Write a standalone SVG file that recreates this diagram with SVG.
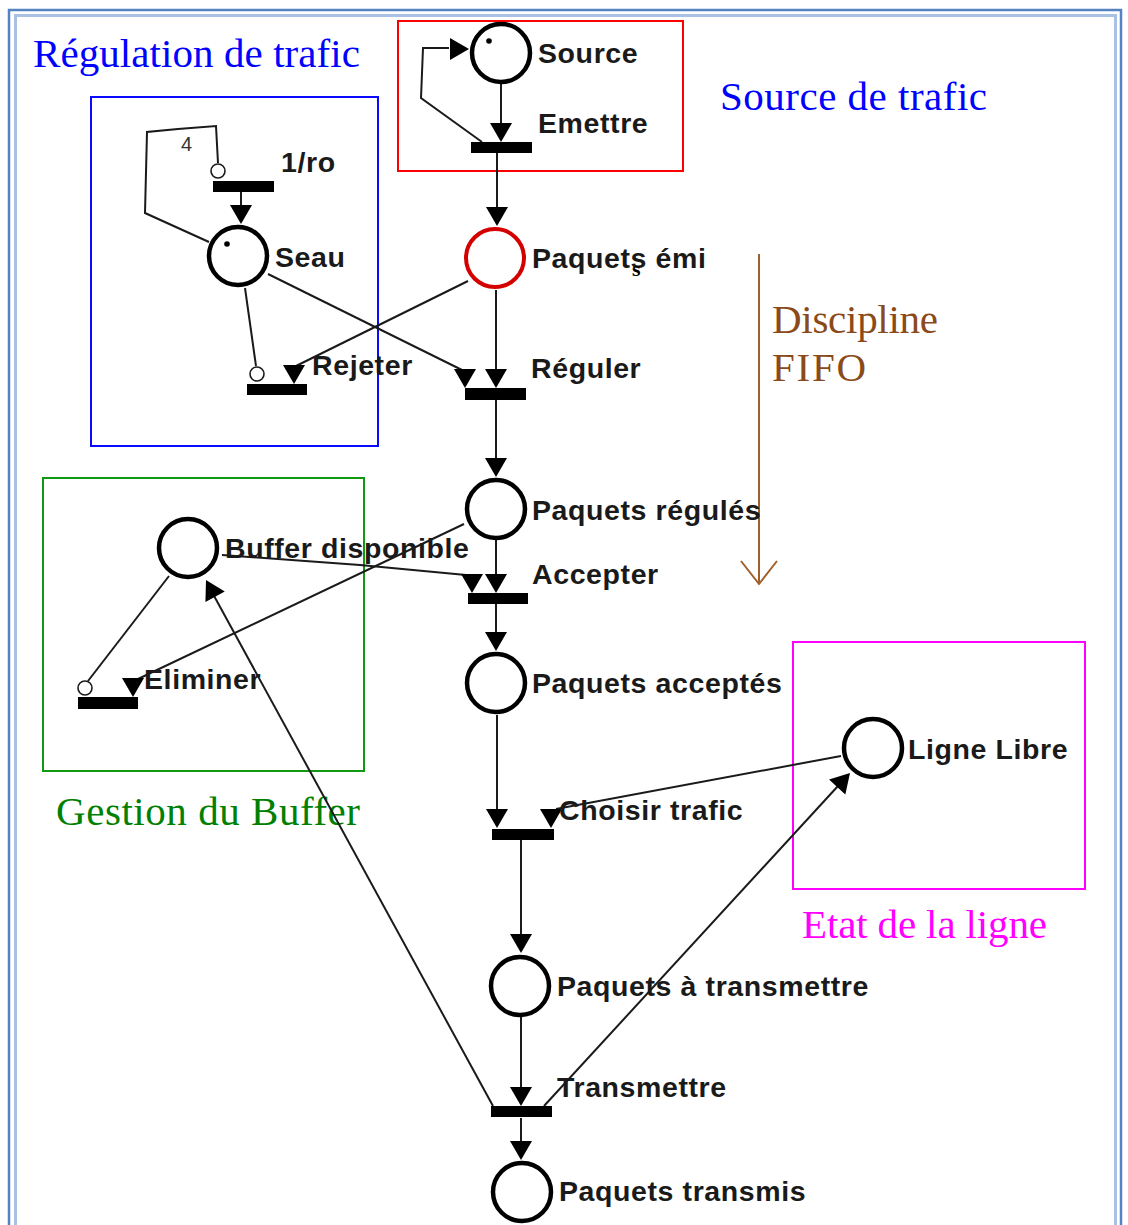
<svg xmlns="http://www.w3.org/2000/svg" xmlns:xlink="http://www.w3.org/1999/xlink" width="1128" height="1225" viewBox="0 0 1128 1225">
  <style>
    .place { fill: #ffffff; stroke: #000000; stroke-width: 4.5; }
    .place-red { fill: #ffffff; stroke: #d40000; stroke-width: 4; }
    .bar { fill: #000000; }
    .arc { fill: none; stroke: #1a1a1a; stroke-width: 2; }
    .inhib { fill: #ffffff; stroke: #1a1a1a; stroke-width: 1.6; }
    .token { fill: #000000; }
    .lbl { font-family: "Liberation Sans", Arial, sans-serif; font-weight: bold; font-size: 28.5px; letter-spacing: 0.6px; fill: #1a1a1a; }
    .title { font-family: "Liberation Serif", "Times New Roman", serif; font-size: 41px; }
    .box { fill: none; stroke-width: 2; }
  </style>
  <defs>
    <!-- filled arrowhead, tip at origin, pointing along +y -->
    <path id="ah" d="M0,0 L-11,-19 L11,-19 Z" fill="#000000"/>
  </defs>

  <rect width="1128" height="1225" fill="#ffffff"/>

  <!-- window frame -->
  <rect x="9" y="10" width="1112" height="1250" fill="none" stroke="#5582c0" stroke-width="2.5"/>
  <rect x="15.5" y="15.5" width="1100" height="1240" fill="none" stroke="#a9c1e2" stroke-width="3"/>

  <!-- grouping frames and their captions -->
  <g id="zone-regulation">
    <rect class="box" x="91" y="97" width="287" height="349" stroke="#0a0aff"/>
    <text class="title" x="33" y="67" fill="#0000ff" textLength="327" lengthAdjust="spacing">Régulation de trafic</text>
  </g>
  <g id="zone-source">
    <rect class="box" x="398" y="21" width="285" height="150" stroke="#ff0000"/>
    <text class="title" x="720" y="110" fill="#0000ff" textLength="267" lengthAdjust="spacing">Source de trafic</text>
  </g>
  <g id="zone-buffer">
    <rect class="box" x="43" y="478" width="321" height="293" stroke="#119911"/>
    <text class="title" x="56" y="825" fill="#008000" textLength="304" lengthAdjust="spacing">Gestion du Buffer</text>
  </g>
  <g id="zone-ligne">
    <rect class="box" x="793" y="642" width="292" height="247" stroke="#ff00ff"/>
    <text class="title" x="802" y="938" fill="#ff00ff" textLength="245" lengthAdjust="spacing">Etat de la ligne</text>
  </g>
  <g id="discipline">
    <text class="title" x="772" y="333" fill="#8b4a1a" textLength="166" lengthAdjust="spacing">Discipline</text>
    <text class="title" x="772" y="381" fill="#8b4a1a" textLength="94" lengthAdjust="spacing">FIFO</text>
    <line x1="759" y1="254" x2="759" y2="584" stroke="#a0602a" stroke-width="2"/>
    <polyline points="741,561 759,584 777,561" fill="none" stroke="#a0602a" stroke-width="2"/>
  </g>

  <!-- arcs -->
  <g id="connectors">
    <!-- Source / Emettre -->
    <line class="arc" x1="501" y1="84" x2="501" y2="124"/>
    <use xlink:href="#ah" x="501" y="142"/>
    <polyline class="arc" points="482,142 421,98 423,48 449,48"/>
    <use xlink:href="#ah" transform="translate(469,49) rotate(-90)"/>
    <line class="arc" x1="497" y1="153" x2="497" y2="208"/>
    <use xlink:href="#ah" x="497" y="226"/>

    <!-- Seau loop with weight 4 (inhibitor on 1/ro) -->
    <polyline class="arc" points="209,242 145,213 147,132 178,129 216,126 218,163"/>
    <circle class="inhib" cx="218" cy="171" r="7"/>
    <line class="arc" x1="241" y1="192" x2="241" y2="205"/>
    <use xlink:href="#ah" x="241" y="224"/>

    <!-- Seau / Paquets emis to Rejeter and Reguler -->
    <line class="arc" x1="245" y1="288" x2="256" y2="366"/>
    <circle class="inhib" cx="257" cy="374" r="7"/>
    <line class="arc" x1="468" y1="281" x2="296" y2="366"/>
    <use xlink:href="#ah" x="294" y="384"/>
    <line class="arc" x1="268" y1="274" x2="462" y2="370"/>
    <use xlink:href="#ah" x="465" y="388"/>
    <line class="arc" x1="496" y1="290" x2="496" y2="370"/>
    <use xlink:href="#ah" x="496" y="388"/>

    <!-- Reguler to Paquets regules -->
    <line class="arc" x1="496" y1="400" x2="496" y2="459"/>
    <use xlink:href="#ah" x="496" y="477"/>

    <!-- Accepter -->
    <line class="arc" x1="496" y1="540" x2="496" y2="575"/>
    <use xlink:href="#ah" x="496" y="593"/>
    <polyline class="arc" points="222,555 360,565 466,575"/>
    <use xlink:href="#ah" x="472" y="593"/>
    <line class="arc" x1="496" y1="604" x2="496" y2="633"/>
    <use xlink:href="#ah" x="496" y="651"/>

    <!-- Eliminer -->
    <line class="arc" x1="464" y1="524" x2="138" y2="679"/>
    <use xlink:href="#ah" x="133" y="697"/>
    <line class="arc" x1="169" y1="576" x2="88" y2="681"/>
    <circle class="inhib" cx="85" cy="688" r="7"/>

    <!-- Choisir trafic -->
    <line class="arc" x1="497" y1="715" x2="497" y2="810"/>
    <use xlink:href="#ah" x="497" y="828"/>
    <line class="arc" x1="841" y1="756" x2="556" y2="809"/>
    <use xlink:href="#ah" x="551" y="828"/>
    <line class="arc" x1="521" y1="840" x2="521" y2="935"/>
    <use xlink:href="#ah" x="521" y="953"/>

    <!-- Transmettre -->
    <line class="arc" x1="521" y1="1017" x2="521" y2="1088"/>
    <use xlink:href="#ah" x="521" y="1106"/>
    <line class="arc" x1="521" y1="1118" x2="521" y2="1142"/>
    <use xlink:href="#ah" x="521" y="1160"/>
    <line class="arc" x1="544" y1="1106" x2="838" y2="786"/>
    <use xlink:href="#ah" transform="translate(850,773) rotate(-137.6)"/>
    <line class="arc" x1="493" y1="1106" x2="213" y2="594"/>
    <use xlink:href="#ah" transform="translate(206,580) rotate(151.4)"/>
  </g>

  <!-- places -->
  <g id="p-source">
    <circle class="place" cx="501" cy="53" r="29"/>
    <circle class="token" cx="489" cy="41" r="2.8"/>
    <text class="lbl" x="538" y="63">Source</text>
  </g>
  <g id="p-paquets-emis">
    <circle class="place-red" cx="495" cy="258" r="29"/>
    <text class="lbl" x="532" y="268">Paquets émi</text>
    <text x="632" y="276" font-family="Liberation Serif, serif" font-weight="bold" font-size="22" fill="#000000">s</text>
  </g>
  <g id="p-seau">
    <circle class="place" cx="238" cy="256" r="29"/>
    <circle class="token" cx="227" cy="244" r="2.8"/>
    <text class="lbl" x="275" y="267">Seau</text>
  </g>
  <g id="p-paquets-regules">
    <circle class="place" cx="496" cy="509" r="29"/>
    <text class="lbl" x="532" y="520">Paquets régulés</text>
  </g>
  <g id="p-buffer">
    <circle class="place" cx="188" cy="548" r="29"/>
    <text class="lbl" x="225" y="558">Buffer disponible</text>
  </g>
  <g id="p-paquets-acceptes">
    <circle class="place" cx="496" cy="683" r="29"/>
    <text class="lbl" x="532" y="693">Paquets acceptés</text>
  </g>
  <g id="p-ligne-libre">
    <circle class="place" cx="873" cy="748" r="29"/>
    <text class="lbl" x="908" y="759">Ligne Libre</text>
  </g>
  <g id="p-paquets-a-transmettre">
    <circle class="place" cx="520" cy="986" r="29"/>
    <text class="lbl" x="557" y="996">Paquets à transmettre</text>
  </g>
  <g id="p-paquets-transmis">
    <circle class="place" cx="522" cy="1192" r="29"/>
    <text class="lbl" x="559" y="1201">Paquets transmis</text>
  </g>

  <!-- transitions -->
  <g id="t-emettre">
    <rect class="bar" x="471" y="142" width="61" height="11"/>
    <text class="lbl" x="538" y="133">Emettre</text>
  </g>
  <g id="t-1ro">
    <rect class="bar" x="213" y="181" width="61" height="11"/>
    <text class="lbl" x="281" y="172">1/ro</text>
    <text x="181" y="151" font-family="Liberation Sans, Arial, sans-serif" font-size="20" fill="#333333">4</text>
  </g>
  <g id="t-rejeter">
    <rect class="bar" x="247" y="384" width="60" height="11"/>
    <text class="lbl" x="312" y="375">Rejeter</text>
  </g>
  <g id="t-reguler">
    <rect class="bar" x="465" y="388" width="61" height="12"/>
    <text class="lbl" x="531" y="378">Réguler</text>
  </g>
  <g id="t-accepter">
    <rect class="bar" x="468" y="593" width="60" height="11"/>
    <text class="lbl" x="532" y="584">Accepter</text>
  </g>
  <g id="t-eliminer">
    <rect class="bar" x="78" y="697" width="60" height="12"/>
    <text class="lbl" x="144" y="689">Eliminer</text>
  </g>
  <g id="t-choisir">
    <rect class="bar" x="492" y="829" width="62" height="11"/>
    <text class="lbl" x="559" y="820">Choisir trafic</text>
  </g>
  <g id="t-transmettre">
    <rect class="bar" x="491" y="1106" width="61" height="11"/>
    <text class="lbl" x="557" y="1097">Transmettre</text>
  </g>
</svg>
